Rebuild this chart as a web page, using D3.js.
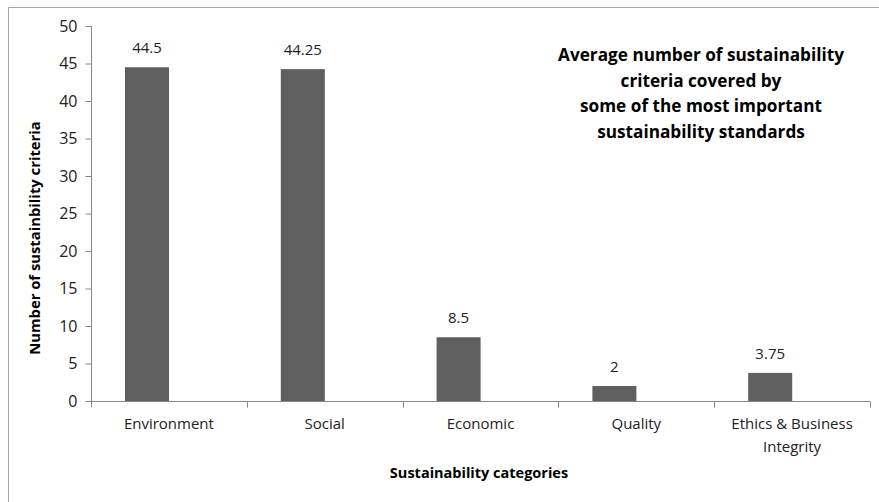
<!DOCTYPE html>
<html><head><meta charset="utf-8">
<script src="https://cdn.jsdelivr.net/npm/d3@7"></script>
<style>body{margin:0;background:#fff}svg{display:block}text{font-family:"Open Sans",sans-serif}</style>
</head><body>
<script>
const categories = ["Environment","Social","Economic","Quality","Ethics & Business Integrity"];
const values = [44.5, 44.25, 8.5, 2, 3.75];
const valueLabels = ["44.5","44.25","8.5","2","3.75"];
const yTicks = [0,5,10,15,20,25,30,35,40,45,50];
const titleLines = ["Average number of sustainability","criteria covered by","some of the most important","sustainability standards"];

const W=879,H=502;
const svg=d3.select("body").append("svg").attr("width",W).attr("height",H);
// outer frame
svg.append("path").attr("d","M8.5,"+H+"V7.5H"+W).attr("fill","none").attr("stroke","#a6a6a6").attr("stroke-width",1);

const x=d3.scaleBand().domain(categories).range([91,870]);
const y=d3.scaleLinear().domain([0,50]).range([401,26]);
const axisColor="#868686";

// y axis
const ya=svg.append("g").attr("transform","translate(91.5,0)").call(d3.axisLeft(y).tickValues(yTicks).tickSize(6).tickPadding(8));
ya.selectAll("path,line").attr("stroke",axisColor);
ya.selectAll("text").attr("font-size",16).attr("fill","#222").attr("font-family","Open Sans");
ya.select(".domain").attr("d","M0,"+y(50)+"V"+y(0));

// x axis
const xa=svg.append("g").attr("transform","translate(0,401.5)");
xa.append("line").attr("x1",91).attr("x2",870).attr("stroke",axisColor);
const bounds=categories.map(c=>x(c)).concat([x.range()[1]]);
xa.selectAll("line.t").data(bounds).join("line").attr("class","t")
  .attr("x1",d=>Math.round(d)+0.5).attr("x2",d=>Math.round(d)+0.5).attr("y1",0).attr("y2",6).attr("stroke",axisColor);

// category labels
categories.forEach((c,i)=>{
  const cx=x(c)+x.bandwidth()/2;
  const t=svg.append("text").attr("x",cx).attr("text-anchor","middle").attr("font-size",15).attr("fill","#222");
  if(c==="Ethics & Business Integrity"){
    t.append("tspan").attr("x",cx).attr("y",429).text("Ethics & Business");
    t.append("tspan").attr("x",cx).attr("y",452).text("Integrity");
  } else t.attr("y",429).text(c);
});

// bars
const bw=44, off=34;
svg.selectAll("rect.bar").data(values).join("rect").attr("class","bar")
  .attr("x",(d,i)=>x(categories[i])+off).attr("width",bw)
  .attr("y",d=>y(d)).attr("height",d=>y(0)-y(d)).attr("fill","#5f5f5f");

svg.selectAll("text.val").data(values).join("text").attr("class","val")
  .attr("x",(d,i)=>x(categories[i])+off+bw/2).attr("y",d=>y(d)-14)
  .attr("text-anchor","middle").attr("font-size",15).attr("fill","#222")
  .text((d,i)=>valueLabels[i]);

// title
svg.append("g").selectAll("text").data(titleLines).join("text")
  .attr("x",701).attr("y",(d,i)=>61+i*25.5).attr("text-anchor","middle")
  .attr("font-size",17.2).attr("font-weight","bold").attr("fill","#000").text(d=>d);

// axis titles
svg.append("text").attr("x",479).attr("y",478).attr("text-anchor","middle")
  .attr("font-size",14.5).attr("font-weight","bold").text("Sustainability categories");
svg.append("text").attr("transform","translate(40,238) rotate(-90)").attr("text-anchor","middle")
  .attr("font-size",14.8).attr("font-weight","bold").text("Number of sustainbility criteria");
</script>
</body></html>
